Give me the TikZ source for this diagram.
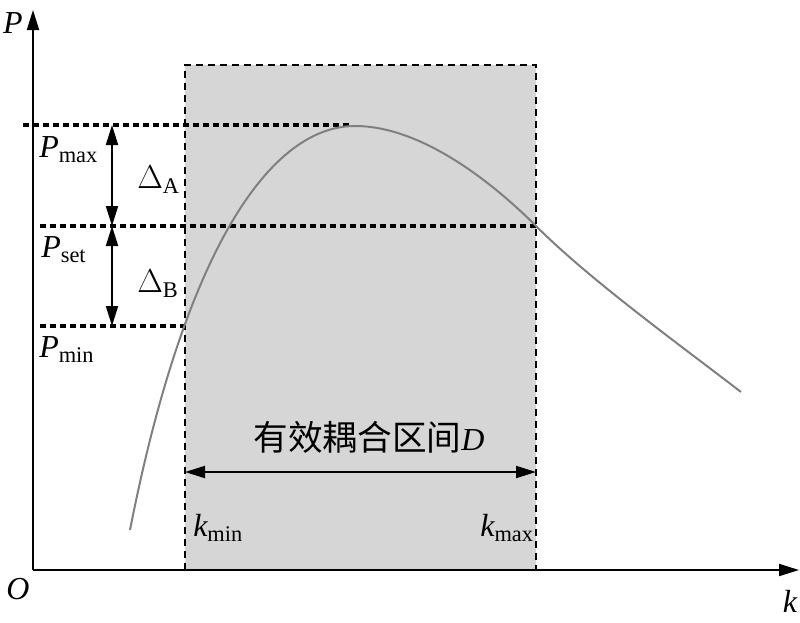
\documentclass[tikz,border=0pt]{standalone}
\usepackage{fontspec}
\setmainfont{Liberation Serif}
\newfontfamily\cjk{Noto Sans CJK SC}
\usetikzlibrary{arrows.meta, positioning}
\newcommand{\qsub}[2]{{\itshape #1}\textsubscript{#2}}

\begin{document}
\begin{tikzpicture}[
  x=0.75pt, y=-0.75pt,
  axis/.style={-{Triangle[length=15pt, width=9pt]}, line width=1.5pt},
  level/.style={line width=2.4pt, dash pattern=on 4.5pt off 3pt},
  region/.style={fill=gray!32, draw, line width=1pt, dash pattern=on 5pt off 4pt},
  arrow/.style={{Triangle[length=15pt, width=9pt]}-{Triangle[length=15pt, width=9pt]}, line width=1.5pt},
  curve/.style={draw=gray, line width=1.5pt},
  lbl/.style={inner sep=0pt, font=\fontsize{24}{28}\selectfont}
]
\useasboundingbox (0,0) rectangle (800,622);

\coordinate (O) at (33,570);
\coordinate (ptop) at (33,10);
\coordinate (kend) at (799,570);
\coordinate (kminB) at (185,570);
\coordinate (kmaxT) at (536,65);

\coordinate (pmaxL) at (23,125);
\coordinate (pmaxR) at (350,125);
\coordinate (psetL) at (40,226);
\coordinate (psetR) at (540,226);
\coordinate (pminL) at (40,326);
\coordinate (pminR) at (185,326);

\coordinate (dA) at (112,125);
\coordinate (dM) at (112,226);
\coordinate (dB) at (112,326);

\coordinate (dL) at (185,472);
\coordinate (dR) at (536,472);

\coordinate (c0) at (130,530);
\coordinate (peak) at (355,126);
\coordinate (cross) at (536,226);
\coordinate (c1) at (741,392);

\draw[region] (kminB) rectangle (kmaxT);

\draw[level] (pmaxL) -- (pmaxR);
\draw[level] (psetL) -- (psetR);
\draw[level] (pminL) -- (pminR);

\draw[curve] (c0) .. controls (185,250) and (270,126) .. (peak)
  .. controls (420,126) and (490,180) .. (cross)
  .. controls (590,280) and (680,345) .. (c1);

\draw[arrow] (dA) -- (dM);
\draw[arrow] (dM) -- (dB);
\draw[arrow] (dL) -- (dR);

\draw[axis] (O) -- (ptop);
\draw[axis] (O) -- (kend);

\node[lbl] (P) at (13,23) {\itshape P};
\node[lbl] (k) at (790,601) {\itshape k};
\node[lbl] (o) at (18,589) {\itshape O};

\node[lbl, anchor=west] (pmax) at (39,150) {\qsub{P}{max}};
\node[lbl, anchor=west] (pset) at (41,250) {\qsub{P}{set}};
\node[lbl, anchor=west] (pmin) at (39,350) {\qsub{P}{min}};

\node[lbl, anchor=west] (deltaA) at (137,180) {$\Delta$\textsubscript{A}};
\node[lbl, anchor=west] (deltaB) at (137,284) {$\Delta$\textsubscript{B}};

\node[lbl, anchor=west] (kmin) at (193,528) {\qsub{k}{min}};
\node[lbl, anchor=east] (kmax) at (534,528) {\qsub{k}{max}};

\node[lbl] (zone) at (369,437) {{\cjk\fontsize{26}{30}\selectfont 有效耦合区间}{\itshape D}};
\end{tikzpicture}
\end{document}
